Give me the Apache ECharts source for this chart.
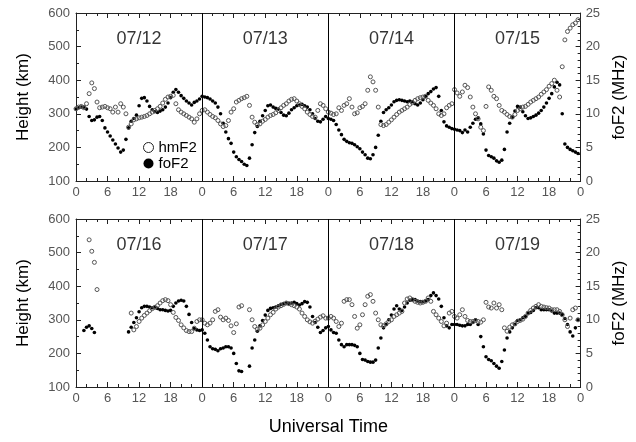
<!DOCTYPE html>
<html><head><meta charset="utf-8">
<script src="https://cdn.jsdelivr.net/npm/echarts/dist/echarts.min.js"></script>
<style>html,body{margin:0;padding:0;background:#fff}#c{width:636px;height:442px}</style>
</head><body><div id="c"></div>
<script>
// Sampling step of the arrays below (hours)
const STEP = 0.5;
const dayLabelsTop = ['07/12', '07/13', '07/14', '07/15'];
const dayLabelsBottom = ['07/16', '07/17', '07/18', '07/19'];
const xTickHours = [0, 6, 12, 18];

// foF2 (MHz), every half hour, UT 0 .. 23.5
const fof2_0712 = [10.7,10.9,11.0,11.0,10.7,9.6,9.0,9.1,9.5,9.6, 9.0,7.9,7.3,6.7,6.1,5.5,4.9,4.3,4.6,6.2, 7.9,8.9,9.3,9.8,11.2,12.3,12.4,11.9,11.1,10.6, 10.3,10.2,10.4,10.6,11.0,11.6,12.4,13.2,13.6,13.2, 12.7,12.3,11.9,11.6,11.3,11.7,11.9,12.2];
const fof2_0713 = [12.6,12.5,12.4,12.2,11.9,11.6,11.0,10.0,8.6,7.3, 6.3,5.6,4.3,3.6,3.2,2.9,2.5,2.3,3.4,5.4, 7.2,8.1,8.9,9.7,10.5,11.2,11.3,11.0,10.8,10.7, 10.2,9.8,9.7,10.1,10.6,10.9,11.2,11.3,11.4,11.2, 11.0,10.6,10.0,9.3,8.9,8.8,9.2,9.6];
const fof2_0714 = [9.3,9.2,9.0,8.4,7.6,6.9,6.2,5.9,5.7,5.6, 5.4,5.1,4.8,4.3,3.9,3.4,3.3,3.9,5.0,6.8, 8.9,10.2,10.6,10.9,11.3,11.8,12.0,12.1,12.0,11.9, 11.8,11.9,11.8,11.5,11.3,11.6,12.1,12.6,13.0,13.3, 13.7,13.9,12.6,10.5,8.8,8.2,8.0,7.8];
const fof2_0715 = [7.7,7.6,7.5,7.2,7.6,7.3,8.0,8.6,9.2,9.4, 8.5,7.0,4.6,3.8,3.6,3.4,3.0,2.8,3.1,4.7, 7.3,8.6,9.5,10.4,11.1,11.0,10.3,9.7,9.3,9.4, 9.6,9.8,10.1,10.5,11.0,11.6,12.3,13.0,14.0,14.7, 14.3,10.0,5.5,5.0,4.7,4.5,4.3,4.1];
const fof2_0716 = [null,null,null,8.4,8.9,9.1,8.7,8.1,null,null, null,null,null,null,null,null,null,null,null,null, 8.2,8.9,9.6,10.3,11.2,11.8,12.0,12.0,11.9,11.8, 11.9,11.7,11.5,11.5,11.4,11.3,11.4,12.0,12.5,12.8, 12.9,12.8,12.0,10.8,9.6,8.7,8.5,8.4];
const fof2_0717 = [8.5,8.0,7.0,6.0,5.7,5.6,5.4,5.7,5.8,6.0, 6.0,5.8,5.0,3.5,2.4,2.3,null,null,3.1,5.8, 7.0,8.3,9.1,9.9,10.7,11.4,11.7,11.8,11.9,12.1, 12.3,12.4,12.5,12.4,12.5,12.6,12.4,12.2,12.4,12.7, 12.6,11.9,10.5,9.6,8.9,8.1,8.4,8.8];
const fof2_0718 = [9.0,8.5,8.1,8.0,7.0,6.3,6.0,6.3,6.3,6.3, 6.2,6.0,5.0,4.1,4.0,3.8,3.7,3.7,4.0,5.8, 7.3,8.8,9.3,10.0,10.7,11.6,12.1,11.6,11.4,11.9, 12.5,12.9,13.0,13.0,12.8,12.7,12.7,12.8,13.0,13.6, 14.0,13.6,13.1,12.0,10.3,9.1,8.8,9.3];
const fof2_0719 = [9.3,9.3,9.2,9.1,9.1,9.3,9.3,9.6,10.0,9.3, 7.5,6.0,4.5,4.1,3.9,3.5,3.1,2.8,3.8,5.5, 7.3,8.2,8.8,9.3,9.9,10.0,10.3,10.5,11.0,11.1, 11.4,11.8,11.8,11.5,11.5,11.5,11.5,11.3,11.0,11.0, 11.0,10.8,10.2,9.3,8.2,7.6,8.8,10.0];

// hmF2 (km), every half hour, UT 0 .. 23.5
const hmf2_0712 = [315,320,322,318,330,360,392,375,335,318, 320,322,318,315,305,320,305,330,320,300, 260,270,282,285,288,290,292,295,300,305, 310,315,322,332,343,350,352,355,330,312, 305,300,295,290,285,275,285,300];
const hmf2_0713 = [310,312,305,298,292,288,280,270,262,265, 280,305,315,335,340,345,348,352,325,290, 275,268,270,278,283,290,295,298,303,310, 318,325,330,338,343,345,338,330,322,315, 305,298,292,290,310,330,325,315];
const hmf2_0714 = [305,302,298,300,318,310,325,330,345,320, 300,303,318,322,330,370,410,395,370,320, 268,265,268,275,282,290,298,305,310,315, 320,328,333,340,345,348,350,352,340,332, 325,315,300,295,300,318,325,330];
const hmf2_0715 = [372,362,352,365,385,378,350,320,300,285, 260,250,322,380,370,352,345,325,310,305, 298,292,290,298,310,315,320,322,328,335, 340,345,350,358,365,372,382,390,400,370, 350,440,520,545,555,565,570,580];
const hmf2_0716 = [null,null,null,null,null,538,504,471,390,null, null,null,null,null,null,null,null,null,null,null, null,320,270,280,295,305,313,320,327,333, 337,342,350,357,360,357,345,322,307,298, 285,276,268,265,265,275,295,300];
const hmf2_0717 = [300,290,285,290,300,325,330,308,300,305, 298,282,262,288,338,342,null,null,330,300, 280,272,275,285,295,305,315,322,332,338, 342,346,350,348,345,342,338,332,320,310, 300,294,290,296,302,308,312,305];
const hmf2_0718 = [305,310,305,295,280,290,355,360,360,345, 310,275,285,315,345,370,375,355,320,300, 285,282,288,295,300,310,315,320,325,350, 362,365,360,355,352,350,352,355,365,355, 325,315,305,295,282,290,320,325];
const hmf2_0719 = [310,305,315,330,310,298,295,295,298,295, 293,300,352,338,335,350,335,345,330,276, 266,278,285,288,295,298,302,310,320,328, 335,340,345,340,338,336,335,330,330,330, 325,315,300,280,305,330,335,300];

function toPoints(days) {
  const pts = [];
  days.forEach((vals, d) => vals.forEach((v, i) => {
    if (v !== null) pts.push([d * 24 + i * STEP, v]);
  }));
  return pts;
}

const panels = [
  { hm: toPoints([hmf2_0712, hmf2_0713, hmf2_0714, hmf2_0715]),
    fo: toPoints([fof2_0712, fof2_0713, fof2_0714, fof2_0715]),
    labels: dayLabelsTop },
  { hm: toPoints([hmf2_0716, hmf2_0717, hmf2_0718, hmf2_0719]),
    fo: toPoints([fof2_0716, fof2_0717, fof2_0718, fof2_0719]),
    labels: dayLabelsBottom }
];

const FONT = "'Liberation Sans', Arial, sans-serif";
const AX = '#222';
const LBL = '#555';
const grids = [
  { left: 76, right: 49, top: 13, height: 168 },
  { left: 76, right: 49, top: 219, height: 168 }
];

const xAxes = [], yAxes = [], series = [];
grids.forEach((g, p) => {
  const base = {
    type: 'value', gridIndex: p, min: 0, max: 96, interval: 6,
    splitLine: { show: false },
    axisLine: { show: true, onZero: false, lineStyle: { color: AX, width: 1 } },
    axisTick: { show: true, inside: true, length: 5, lineStyle: { color: AX } },
    minorTick: { show: true, splitNumber: 3, length: 3, lineStyle: { color: AX } }
  };
  xAxes.push(Object.assign({}, base, {
    position: 'bottom',
    axisLabel: { show: true, margin: 5, color: LBL, fontSize: 13, fontFamily: FONT,
      formatter: v => String(xTickHours.includes(v % 24) ? v % 24 : '') },
    name: p === 1 ? 'Universal Time' : '',
    nameLocation: 'middle', nameGap: 31,
    nameTextStyle: { fontSize: 18, color: '#000', fontFamily: FONT }
  }));
  xAxes.push(Object.assign({}, base, { position: 'top', axisLabel: { show: false } }));
  yAxes.push({
    type: 'value', gridIndex: p, position: 'left', min: 100, max: 600, interval: 100,
    splitLine: { show: false },
    axisLine: { show: true, onZero: false, lineStyle: { color: AX } },
    axisTick: { show: true, inside: true, length: 5, lineStyle: { color: AX } },
    minorTick: { show: true, splitNumber: 2, length: 3, lineStyle: { color: AX } },
    axisLabel: { margin: 6, color: LBL, fontSize: 13, fontFamily: FONT },
    name: 'Height (km)', nameLocation: 'middle', nameGap: 44, nameRotate: 90,
    nameTextStyle: { fontSize: 17, color: '#000', fontFamily: FONT }
  });
  yAxes.push({
    type: 'value', gridIndex: p, position: 'right', min: 0, max: 25, interval: 5,
    splitLine: { show: false },
    axisLine: { show: true, onZero: false, lineStyle: { color: AX } },
    axisTick: { show: true, inside: true, length: 5, lineStyle: { color: AX } },
    minorTick: { show: true, splitNumber: 5, length: 3, lineStyle: { color: AX } },
    axisLabel: { margin: 5, color: LBL, fontSize: 13, fontFamily: FONT },
    name: 'foF2 (MHz)', nameLocation: 'middle', nameGap: 22, nameRotate: 90,
    nameTextStyle: { fontSize: 17, color: '#000', fontFamily: FONT }
  });

  const P = panels[p];
  series.push({
    name: 'foF2', type: 'scatter', xAxisIndex: 2 * p, yAxisIndex: 2 * p + 1,
    data: P.fo, symbol: 'circle', symbolSize: 3.6,
    itemStyle: { color: '#000', opacity: 1 }, z: 2, silent: true,
    markLine: {
      silent: true, symbol: 'none', label: { show: false },
      lineStyle: { color: '#000', width: 1, type: 'solid', opacity: 1 },
      data: [{ xAxis: 24 }, { xAxis: 48 }, { xAxis: 72 }]
    }
  });
  series.push({
    name: 'hmF2', type: 'scatter', xAxisIndex: 2 * p, yAxisIndex: 2 * p,
    data: P.hm, symbol: 'circle', symbolSize: 4,
    itemStyle: { color: 'rgba(255,255,255,0)', borderColor: '#555', borderWidth: 1, opacity: 1 },
    z: 3, silent: true
  });
  series.push({
    name: 'days', type: 'scatter', xAxisIndex: 2 * p, yAxisIndex: 2 * p,
    symbolSize: 0, silent: true,
    data: P.labels.map((t, k) => ({ name: t, value: [12 + 24 * k, 522] })),
    label: { show: true, position: 'inside', formatter: '{b}', fontSize: 18, color: '#000', fontFamily: FONT }
  });
});

const chart = echarts.init(document.getElementById('c'), null, { renderer: 'canvas' });
chart.setOption({
  animation: false,
  backgroundColor: '#fff',
  grid: grids,
  xAxis: xAxes,
  yAxis: yAxes,
  legend: {
    orient: 'vertical', left: 143, top: 140, itemGap: 1, itemWidth: 10, itemHeight: 10,
    padding: 0, selectedMode: false,
    textStyle: { fontSize: 15, color: '#000', fontFamily: FONT },
    data: [
      { name: 'hmF2', icon: 'circle', itemStyle: { color: '#fff', borderColor: '#222', borderWidth: 1 } },
      { name: 'foF2', icon: 'circle', itemStyle: { color: '#000' } }
    ]
  },
  series: series
});
</script></body></html>
